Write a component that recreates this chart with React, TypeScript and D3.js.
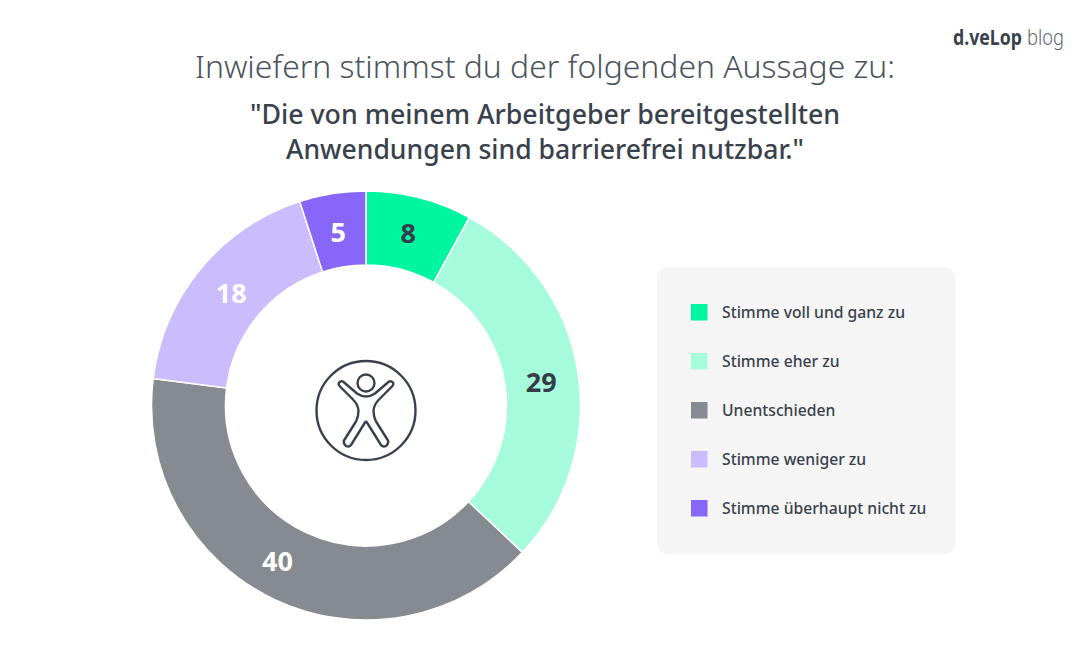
import React from "react";
import * as d3 from "d3";

const categories = ["Stimme voll und ganz zu", "Stimme eher zu", "Unentschieden", "Stimme weniger zu", "Stimme überhaupt nicht zu"];
const values = [8, 29, 40, 18, 5];
const colors = ["#00f5a0", "#a6fbdd", "#858b90", "#cbbdfd", "#8766f8"];
const labelColors = ["#343e48", "#343e48", "#ffffff", "#ffffff", "#ffffff"];
const labelNudge = [[-2, 0], [0, 5], [-13, -5], [2, 1], [0, 2]];
const FONT = "'Noto Sans', 'Open Sans', sans-serif";
const INK = "#39424c";

const cx = 366, cy = 405.5, R = 214.5, r = 140.5;

export default function App() {
  const pie = d3.pie<number>().sort(null)(values);
  const arc = d3.arc<d3.PieArcDatum<number>>().innerRadius(r).outerRadius(R);
  const labelArc = d3.arc<d3.PieArcDatum<number>>().innerRadius(r + 37).outerRadius(R - 37);
  const legendY = d3.scalePoint<string>().domain(categories).range([312.5, 508.5]);
  return (
    <svg width={1090} height={647} viewBox="0 0 1090 647" style={{ position: "absolute", left: 0, top: 0, background: "#fff" }} fontFamily={FONT}>
      <text x={953} y={45} fontSize={22} fontWeight={700} fill={INK} textLength={69} lengthAdjust="spacingAndGlyphs">d.veLop</text>
      <text x={1027} y={45} fontSize={22} fontWeight={300} fill="#5b646c" textLength={37} lengthAdjust="spacingAndGlyphs">blog</text>
      <text x={545} y={78} textAnchor="middle" fontSize={32} fontWeight={300} fill="#4b545c" textLength={700} lengthAdjust="spacingAndGlyphs">Inwiefern stimmst du der folgenden Aussage zu:</text>
      <text x={545} y={124} textAnchor="middle" fontSize={27} fontWeight={500} fill={INK} textLength={590} lengthAdjust="spacingAndGlyphs">"Die von meinem Arbeitgeber bereitgestellten</text>
      <text x={545} y={159} textAnchor="middle" fontSize={27} fontWeight={500} fill={INK} textLength={518} lengthAdjust="spacingAndGlyphs">Anwendungen sind barrierefrei nutzbar."</text>

      <g transform={`translate(${cx},${cy})`}>
        {pie.map((d, i) => (
          <path key={i} d={arc(d) as string} fill={colors[i]} stroke="#fff" strokeWidth={1.5} />
        ))}
        {pie.map((d, i) => {
          const [x, y] = labelArc.centroid(d);
          return (
            <text key={i} x={x + labelNudge[i][0]} y={y + labelNudge[i][1]} dy="0.36em" textAnchor="middle" fontSize={27} fontWeight={700} fill={labelColors[i]}>{values[i]}</text>
          );
        })}
      </g>

      <g transform="translate(366,410.5)" fill="none" stroke={INK} strokeWidth={2.4} strokeLinejoin="round">
        <circle r={49.5} />
        <circle cx={0} cy={-27.5} r={8.5} />
        <path d="M-23,-29 L-9,-17 Q0,-11 9,-17 L23,-29 Q25,-30 27,-28 Q28,-26 26,-24 L13,-11 Q8,-6 7.5,0 Q7.5,6 10,11 L22,30 Q23,33 20,35.5 Q17,37 15,34.5 L1,12 Q0,10.5 -1,12 L-15,34.5 Q-17,37 -20,35.5 Q-23,33 -22,30 L-10,11 Q-7.5,6 -7.5,0 Q-8,-6 -13,-11 L-26,-24 Q-28,-26 -27,-28 Q-25,-30 -23,-29 Z" />
      </g>

      <rect x={657} y={267} width={298} height={287} rx={10} fill="#f5f5f6" />
      {categories.map((c, i) => {
        const y = legendY(c) as number;
        return (
          <g key={c}>
            <rect x={691} y={y - 8.5} width={16.5} height={16.5} fill={colors[i]} />
            <text x={722} y={y + 5.5} fontSize={15.7} fontWeight={500} fill={INK}>{c}</text>
          </g>
        );
      })}
    </svg>
  );
}
